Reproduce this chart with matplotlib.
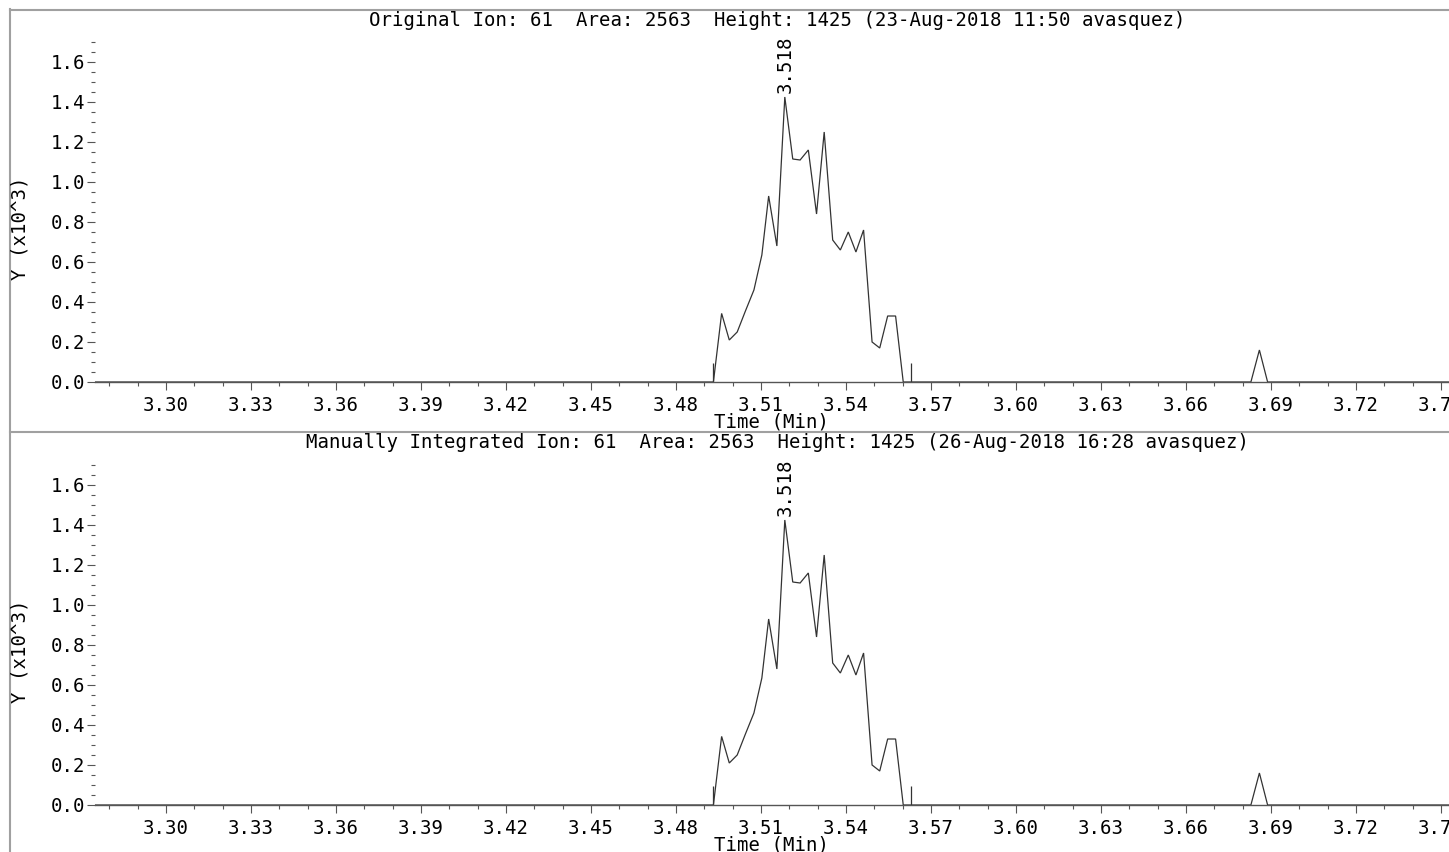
import matplotlib
matplotlib.use("Agg")
import matplotlib.pyplot as plt
from matplotlib.lines import Line2D
from matplotlib.ticker import MultipleLocator, FormatStrFormatter

# ---- data (intensity in thousands of counts) ----
times = [3.275, 3.4932, 3.4961, 3.4988, 3.5016, 3.5045, 3.5075, 3.5103, 3.5127,
         3.5156, 3.5184, 3.5212, 3.5238, 3.5267, 3.5296, 3.5323, 3.5353, 3.5380,
         3.5408, 3.5435, 3.5462, 3.5492, 3.5519, 3.5547, 3.5575, 3.5602,
         3.6829, 3.6859, 3.6888, 3.753]
intensity = [0, 0, 0.343, 0.21, 0.25, 0.355, 0.46, 0.635, 0.93,
             0.68, 1.425, 1.115, 1.11, 1.16, 0.84, 1.25, 0.71, 0.66,
             0.75, 0.65, 0.76, 0.20, 0.17, 0.33, 0.33, 0.0,
             0, 0.16, 0, 0]
peak_time = 3.5184
peak_height = 1.425
peak_label = "3.518"
integ_start = 3.4932
integ_end = 3.5629
marker_height = 0.095

titles = [
    "Original Ion: 61  Area: 2563  Height: 1425 (23-Aug-2018 11:50 avasquez)",
    "Manually Integrated Ion: 61  Area: 2563  Height: 1425 (26-Aug-2018 16:28 avasquez)",
]
xlabel = "Time (Min)"
ylabel = "Y (x10^3)"

# ---- layout (pixels) ----
W, H = 1449, 852
DPI = 100
fig = plt.figure(figsize=(W / DPI, H / DPI), dpi=DPI)
FONT = "DejaVu Sans Mono"
FS = 13.7

xmin, xmax = 3.27494, 3.75282
ymax = 1.72
px_per_unit = 200.0  # px per 1.0 (x10^3)

def fx(px):
    return px / W

def fy(py):
    return 1 - py / H

line_col = "#333333"
border_col = "#a0a0a0"

panel_axis_y = [382, 805]
panel_offset = [0, 423]

for i, (base, off) in enumerate(zip(panel_axis_y, panel_offset)):
    top = base - ymax * px_per_unit
    ax = fig.add_axes([fx(95), fy(base), fx(W - 95), (base - top) / H])
    ax.set_xlim(xmin, xmax)
    ax.set_ylim(0, ymax)
    for s in ["top", "right", "left"]:
        ax.spines[s].set_visible(False)
    ax.spines["bottom"].set_color("#555555")
    ax.spines["bottom"].set_linewidth(1.0)
    ax.patch.set_alpha(0)

    ax.plot(times, intensity, color=line_col, lw=0.9, solid_joinstyle="miter")
    ax.vlines([integ_start, integ_end], 0, marker_height, color=line_col, lw=0.9)

    ax.xaxis.set_major_locator(MultipleLocator(0.03))
    ax.xaxis.set_minor_locator(MultipleLocator(0.01))
    ax.xaxis.set_major_formatter(FormatStrFormatter("%.2f"))
    ax.yaxis.set_major_locator(MultipleLocator(0.2))
    ax.yaxis.set_minor_locator(MultipleLocator(0.05))
    ax.yaxis.set_major_formatter(FormatStrFormatter("%.1f"))
    ax.tick_params(axis="x", which="major", direction="out", length=6, width=0.8,
                   color="#555555", pad=4, labelsize=FS)
    ax.tick_params(axis="x", which="minor", direction="out", length=3, width=0.8,
                   color="#555555")
    ax.tick_params(axis="y", which="major", direction="out", length=6, width=0.8,
                   color="#555555", pad=1, labelsize=FS)
    ax.tick_params(axis="y", which="minor", direction="out", length=3, width=0.8,
                   color="#555555")
    for lab in ax.get_xticklabels() + ax.get_yticklabels():
        lab.set_fontfamily(FONT)

    ax.annotate(peak_label, xy=(peak_time, peak_height), xytext=(0, 3),
                textcoords="offset points", rotation=90, ha="center", va="bottom",
                fontsize=FS, family=FONT, color="black")

    fig.text(fx(777), fy(20 + off), titles[i], ha="center", va="center",
             fontsize=FS, family=FONT)
    fig.text(fx(771), fy(422 + off), xlabel, ha="center", va="center",
             fontsize=FS, family=FONT)
    fig.text(fx(20), fy(228 + off), ylabel, ha="center", va="center",
             rotation=90, fontsize=FS, family=FONT)

# frame borders
fig.add_artist(Line2D([fx(10), fx(10)], [fy(9), 0], transform=fig.transFigure,
                      color=border_col, lw=1.5))
fig.add_artist(Line2D([fx(10), 1], [fy(9.5), fy(9.5)], transform=fig.transFigure,
                      color=border_col, lw=1.5))
fig.add_artist(Line2D([fx(10), 1], [fy(432), fy(432)], transform=fig.transFigure,
                      color=border_col, lw=1.5))

fig.savefig("out.png", dpi=DPI)
